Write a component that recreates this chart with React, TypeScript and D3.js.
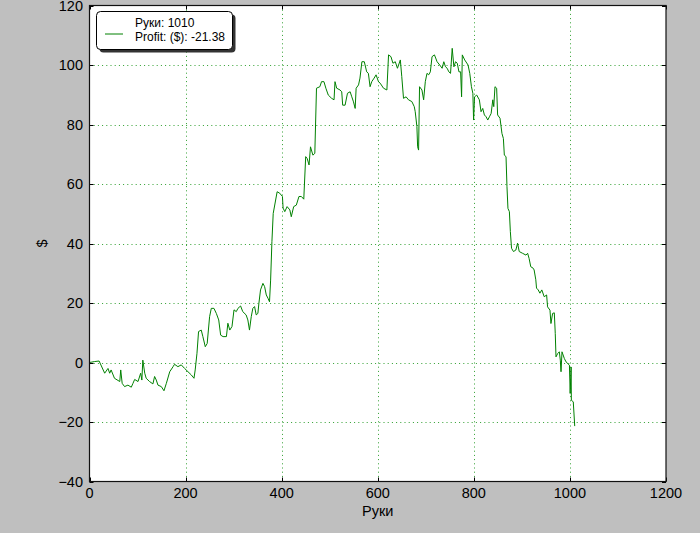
import React from "react";
import * as d3 from "d3";

const hands = [
  0,10,20,31.6,38.5,42,45,52,63,65,
  68,73,80,87,90.5,94,101,106.5,109,111,
  115,118,125,132,135.5,139,142.5,149.5,155,160,
  167,174,177,184,191,198,205,212,217.5,220,
  223.7,227,232.6,236,241,245,250,253.5,259,264,
  269,273,278,285,288,292,296.6,300.8,305.5,309,
  314.5,319,326,329.6,333,336.7,340,343.6,347,350.5,
  352.6,356,361,364.5,368,371.5,374.7,377,379.7,382.4,
  390.6,396,401.6,403,406.5,411.3,417,420,425,430.5,
  436,441,446,450,453,457,460,465,469,472.5,
  479.5,483,488,492,497,504,509,511,514.5,521.5,
  525,527,532,537,542.5,546,549.5,553,555,560,
  563,567,572,577,580.5,584,587.5,592.5,596.5,601.5,
  605,612,619,622.5,627.5,631.6,636.5,641,647,650,
  653.6,659,664,671,676,678,681.5,683,685,687,
  692,695.5,699,702.5,706,709.5,713,718,723.5,729,
  734,737.5,741,744.5,748,751.5,755,758.5,762,765.5,
  769,772.5,774.5,776,781,788,791.5,795,798,799.5,
  801.5,806,811.5,815,818.5,822,825.5,829,832.5,836,
  839.5,841.5,844,847.5,849.5,854.5,858.5,861.5,863.5,867,
  869,871,874,876,878.5,882.5,887.5,891,894.5,901.5,
  908.5,912,915,918.5,923.5,925.5,929,930.5,934,937.5,
  941.5,946.5,951.5,953.5,958.5,960.5,964,967.5,969.5,971,
  974.5,978,980,981.5,983.5,988.5,992,999,1000.5,1002.5,
  1003,1007,1010,
];

const profit = [
  0,0.3,0.5,-3.6,-2.0,-3.6,-2.5,-5.3,-6.4,-2.5,
  -7.0,-8.1,-7.6,-8.3,-7.0,-5.7,-6.4,-3.6,-5.9,0.8,
  -3.6,-5.3,-6.4,-7.2,-4.7,-5.9,-7.6,-8.1,-9.5,-7.0,
  -3.1,-1.4,-0.6,-1.4,-0.8,-2.0,-3.1,-4.2,-5.3,-2.5,
  3.1,10.4,10.9,8.7,5.3,6.4,15.4,18.2,18.2,16.5,
  14.3,9.2,8.7,8.7,13.2,10.9,12.1,17.7,17.1,18.2,
  19.0,17.1,16.0,14.3,10.9,15.4,18.2,18.8,16.0,16.5,
  19.9,24.4,26.6,25.5,22.7,21.6,20.4,27.7,40.6,50.1,
  57.4,56.9,55.8,51.9,50.7,52.4,51.3,49.0,52.4,52.9,
  55.8,55.8,54.9,69.2,68.6,66.4,72.5,69.7,70.3,92.2,
  92.7,94.4,94.4,92.2,89.9,88.8,88.3,94.4,92.2,91.6,
  91.0,86.5,86.5,90.5,91.0,89.3,87.6,85.4,92.2,93.3,
  95.6,101.1,101.1,97.7,97.2,92.7,94.4,95.6,96.7,94.4,
  93.9,92.2,91.6,103.4,102.8,100.6,101.1,98.9,101.7,96.1,
  88.8,89.3,88.3,87.7,86.0,84.3,79.3,72.5,71.4,92.7,
  91.6,88.3,94.4,97.2,96.7,97.7,102.8,103.4,101.1,100.0,
  98.9,101.1,99.4,98.9,97.7,97.2,105.6,99.4,101.1,100.6,
  97.7,97.7,89.3,103.4,101.7,100.0,97.2,92.7,90.5,81.5,
  89.3,89.9,88.3,84.3,85.4,83.2,82.6,81.5,82.6,83.7,
  88.3,86.0,92.7,92.2,83.2,82.1,77.0,75.3,69.7,69.2,
  59.1,51.8,50.7,44.0,38.4,37.3,37.8,40.1,37.3,36.7,
  36.1,36.7,35.0,32.2,31.7,31.1,27.8,25.0,24.4,23.3,
  24.4,22.1,22.7,18.7,17.6,13.1,16.5,16.7,9.8,1.9,
  3.0,3.6,0.8,-3.1,3.6,1.3,0.2,-0.9,-10.4,-1.5,
  -12.7,-13.2,-21.38,
];

const xTicks = [0, 200, 400, 600, 800, 1000, 1200];
const yTicks = [-40, -20, 0, 20, 40, 60, 80, 100, 120];
const legendLines = ["Руки: 1010", "Profit: ($): -21.38"];
const xLabel = "Руки";
const yLabel = "$";

const W = 700;
const H = 533;
const L = 89.5;
const R = 666;
const T = 5.5;
const B = 481.5;
const FONT = "'Liberation Sans', Arial, sans-serif";

export default function App() {
  const x = d3.scaleLinear().domain([0, 1200]).range([L, R]);
  const y = d3.scaleLinear().domain([-40, 120]).range([B, T]);
  const pts = hands.map((h, i) => [h, profit[i]] as [number, number]);
  const line = d3
    .line<[number, number]>()
    .x((d) => x(d[0]))
    .y((d) => y(d[1]));
  const fmt = (v: number) => (v < 0 ? "\u2212" + Math.abs(v) : String(v));
  const gridColor = "#2f9f2f";
  const tickLen = 4;

  return (
    <svg
      width={W}
      height={H}
      style={{ position: "absolute", left: 0, top: 0, display: "block" }}
      fontFamily={FONT}
    >
      <rect x={0} y={0} width={W} height={H} fill="#bfbfbf" />
      <rect x={L} y={T} width={R - L} height={B - T} fill="#ffffff" />
      <defs>
        <clipPath id="plotclip">
          <rect x={L} y={T} width={R - L} height={B - T} />
        </clipPath>
      </defs>
      {/* grid */}
      <g stroke={gridColor} strokeWidth={1} strokeDasharray="1,3.2">
        {xTicks.slice(1, -1).map((t) => (
          <line key={"gx" + t} x1={Math.round(x(t)) + 0.5} x2={Math.round(x(t)) + 0.5} y1={T} y2={B} />
        ))}
        {yTicks.slice(1, -1).map((t) => (
          <line key={"gy" + t} x1={L} x2={R} y1={Math.round(y(t)) + 0.5} y2={Math.round(y(t)) + 0.5} />
        ))}
      </g>
      {/* data line */}
      <path
        d={line(pts) || ""}
        fill="none"
        stroke="#008000"
        strokeWidth={1}
        clipPath="url(#plotclip)"
      />
      {/* ticks */}
      <g stroke="#000" strokeWidth={1}>
        {xTicks.map((t) => {
          const px = Math.round(x(t)) + 0.5;
          return (
            <g key={"tx" + t}>
              <line x1={px} x2={px} y1={B} y2={B - tickLen} />
              <line x1={px} x2={px} y1={T} y2={T + tickLen} />
            </g>
          );
        })}
        {yTicks.map((t) => {
          const py = Math.round(y(t)) + 0.5;
          return (
            <g key={"ty" + t}>
              <line x1={L} x2={L + tickLen} y1={py} y2={py} />
              <line x1={R} x2={R - tickLen} y1={py} y2={py} />
            </g>
          );
        })}
      </g>
      {/* frame */}
      <rect x={L} y={T} width={R - L} height={B - T} fill="none" stroke="#111" strokeWidth={1.2} />
      {/* tick labels */}
      <g fontSize={14.5} fill="#000">
        {xTicks.map((t) => (
          <text key={"lx" + t} x={x(t)} y={498} textAnchor="middle">
            {fmt(t)}
          </text>
        ))}
        {yTicks.map((t) => (
          <text key={"ly" + t} x={83} y={y(t) + 5.3} textAnchor="end">
            {fmt(t)}
          </text>
        ))}
      </g>
      {/* axis labels */}
      <text x={(L + R) / 2} y={516} textAnchor="middle" fontSize={14.5} fill="#000">
        {xLabel}
      </text>
      <text
        transform={`translate(47, ${(T + B) / 2}) rotate(-90)`}
        textAnchor="middle"
        fontSize={14.5}
        fill="#000"
      >
        {yLabel}
      </text>
      {/* legend */}
      <rect x={99.5} y={14.5} width={136} height={38} rx={4} fill="#333" />
      <rect x={96.5} y={11.5} width={136} height={38} rx={4} fill="#fff" stroke="#000" strokeWidth={1} />
      <line x1={105} x2={123} y1={34} y2={34} stroke="#008000" strokeWidth={1} />
      <text x={135} y={26.5} fontSize={12} fill="#000">
        {legendLines[0]}
      </text>
      <text x={135} y={40.8} fontSize={12} fill="#000">
        {legendLines[1]}
      </text>
    </svg>
  );
}
